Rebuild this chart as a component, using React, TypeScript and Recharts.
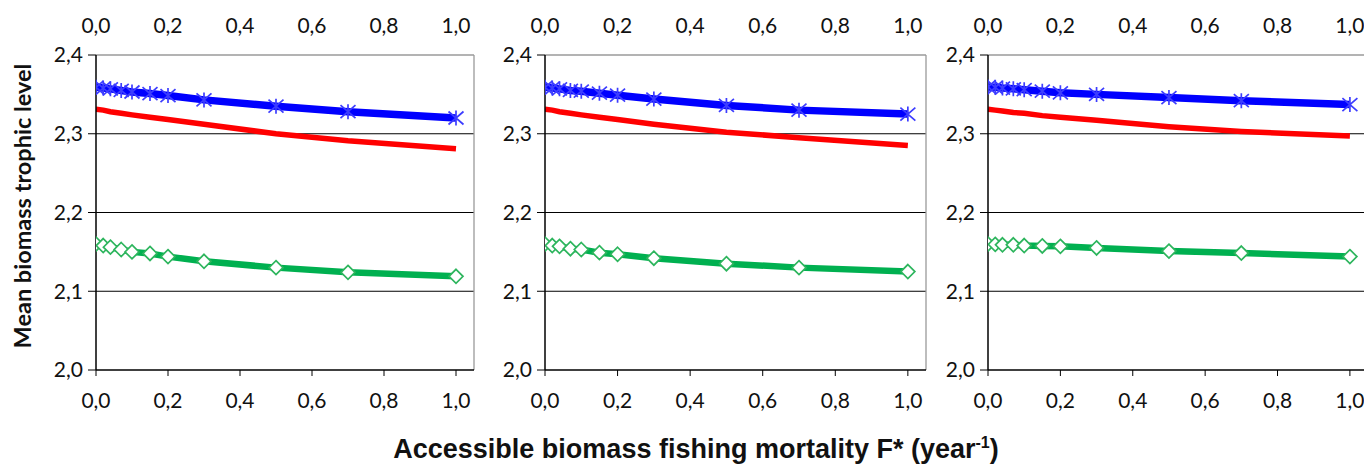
import { LineChart, Line, XAxis, YAxis, CartesianGrid, ReferenceLine } from "recharts";

// F* values (shared by the three panels)
const fValues = [0, 0.02, 0.04, 0.07, 0.1, 0.15, 0.2, 0.3, 0.5, 0.7, 1.0];
const xTicks = [0, 0.2, 0.4, 0.6, 0.8, 1.0];
const yTicks = [2.0, 2.1, 2.2, 2.3, 2.4];

const blue1 = [2.359, 2.358, 2.357, 2.355, 2.353, 2.351, 2.3485, 2.343, 2.335, 2.328, 2.32];
const red1 = [2.331, 2.33, 2.328, 2.326, 2.324, 2.321, 2.318, 2.312, 2.3, 2.291, 2.281];
const green1 = [2.16, 2.158, 2.156, 2.153, 2.15, 2.148, 2.144, 2.138, 2.13, 2.124, 2.119];

const blue2 = [2.359, 2.358, 2.357, 2.355, 2.354, 2.3515, 2.349, 2.344, 2.336, 2.33, 2.325];
const red2 = [2.331, 2.33, 2.328, 2.326, 2.324, 2.321, 2.318, 2.312, 2.302, 2.295, 2.285];
const green2 = [2.16, 2.158, 2.157, 2.154, 2.153, 2.149, 2.147, 2.142, 2.135, 2.13, 2.125];

const blue3 = [2.3595, 2.359, 2.358, 2.357, 2.356, 2.354, 2.352, 2.35, 2.346, 2.342, 2.337];
const red3 = [2.331, 2.33, 2.329, 2.327, 2.326, 2.323, 2.321, 2.317, 2.309, 2.303, 2.297];
const green3 = [2.16, 2.1595, 2.159, 2.159, 2.158, 2.1575, 2.157, 2.155, 2.151, 2.1485, 2.144];

const comma = (v: number) => v.toFixed(1).replace(".", ",");
const tickFont = { fill: "#111", fontSize: 21, fontFamily: "Lato" };

const renderStar = (p: any) => {
  const { cx, cy, index } = p;
  if (cx == null || cy == null) return <g key={index} />;
  const rx = 7.5, ry = 6.5;
  const d = `M${cx - rx},${cy - ry}L${cx + rx},${cy + ry}M${cx - rx},${cy + ry}L${cx + rx},${cy - ry}M${cx},${cy - ry - 1}L${cx},${cy + ry + 1}`;
  return <path key={index} d={d} stroke="#3d3dff" strokeWidth={1.7} fill="none" />;
};

const renderDiamond = (p: any) => {
  const { cx, cy, index } = p;
  if (cx == null || cy == null) return <g key={index} />;
  const r = 7;
  const d = `M${cx},${cy - r}L${cx + r},${cy}L${cx},${cy + r}L${cx - r},${cy}Z`;
  return <path key={index} d={d} stroke="#2db55d" strokeWidth={1.7} fill="#fff" />;
};

function Panel({ left, width, blue, red, green }: { left: number; width: number; blue: number[]; red: number[]; green: number[] }) {
  const data = fValues.map((f, i) => ({ f, blue: blue[i], red: red[i], green: green[i] }));
  return (
    <div style={{ position: "absolute", left, top: 0 }}>
      <LineChart width={width} height={466} data={data} margin={{ top: 15, right: 6, bottom: 56, left: 56 }}>
        <CartesianGrid xAxisId="b" horizontalValues={[2.1, 2.2, 2.3]} vertical={false} stroke="#000" strokeWidth={1.2} />
        <XAxis
          xAxisId="b"
          type="number"
          dataKey="f"
          domain={[0, 1.05]}
          ticks={xTicks}
          allowDataOverflow
          orientation="bottom"
          height={40}
          tickFormatter={comma}
          tick={tickFont}
          axisLine={{ stroke: "#000", strokeWidth: 1.3 }}
          tickLine={{ stroke: "#000" }}
          tickSize={6}
          tickMargin={17}
        />
        <XAxis
          xAxisId="t"
          type="number"
          dataKey="f"
          domain={[0, 1.05]}
          ticks={xTicks}
          allowDataOverflow
          orientation="top"
          height={40}
          tickFormatter={comma}
          tick={tickFont}
          axisLine={false}
          tickLine={false}
          tickSize={0}
          tickMargin={22}
        />
        <YAxis
          type="number"
          domain={[2.0, 2.4]}
          ticks={yTicks}
          allowDataOverflow
          width={40}
          tickFormatter={comma}
          tick={tickFont}
          axisLine={{ stroke: "#000", strokeWidth: 1.5 }}
          tickLine={{ stroke: "#000" }}
          tickSize={8}
          tickMargin={5}
        />
        <ReferenceLine xAxisId="b" y={2.4} stroke="#9a9a9a" strokeWidth={1.3} />
        <ReferenceLine xAxisId="b" x={1.05} stroke="#9a9a9a" strokeWidth={1.3} />
        <Line xAxisId="b" type="linear" dataKey="blue" stroke="#0000ff" strokeWidth={7.5} dot={renderStar} isAnimationActive={false} />
        <Line xAxisId="b" type="linear" dataKey="red" stroke="#ff0000" strokeWidth={5.5} dot={false} isAnimationActive={false} />
        <Line xAxisId="b" type="linear" dataKey="green" stroke="#00b050" strokeWidth={6.5} dot={renderDiamond} isAnimationActive={false} />
      </LineChart>
    </div>
  );
}

export default function App() {
  return (
    <div style={{ position: "fixed", left: 0, top: 0, width: 1364, height: 466, overflow: "hidden", background: "#fff" }}>
      <Panel left={0} width={480} blue={blue1} red={red1} green={green1} />
      <Panel left={449} width={483} blue={blue2} red={red2} green={green2} />
      <Panel left={892} width={482} blue={blue3} red={red3} green={green3} />
      <div
        style={{
          position: "absolute",
          left: 22,
          top: 206,
          transform: "translate(-50%, -50%) rotate(-90deg)",
          whiteSpace: "nowrap",
          fontFamily: "Lato",
          fontWeight: 700,
          fontSize: 23.5,
          color: "#111",
        }}
      >
        Mean biomass trophic level
      </div>
      <div
        style={{
          position: "absolute",
          left: 696,
          top: 435,
          transform: "translateX(-50%)",
          whiteSpace: "nowrap",
          fontFamily: "Liberation Sans",
          fontWeight: 700,
          fontSize: 27,
          lineHeight: 1,
          color: "#111",
        }}
      >
        Accessible biomass fishing mortality F* (year<sup style={{ fontSize: 16 }}>-1</sup>)
      </div>
    </div>
  );
}
